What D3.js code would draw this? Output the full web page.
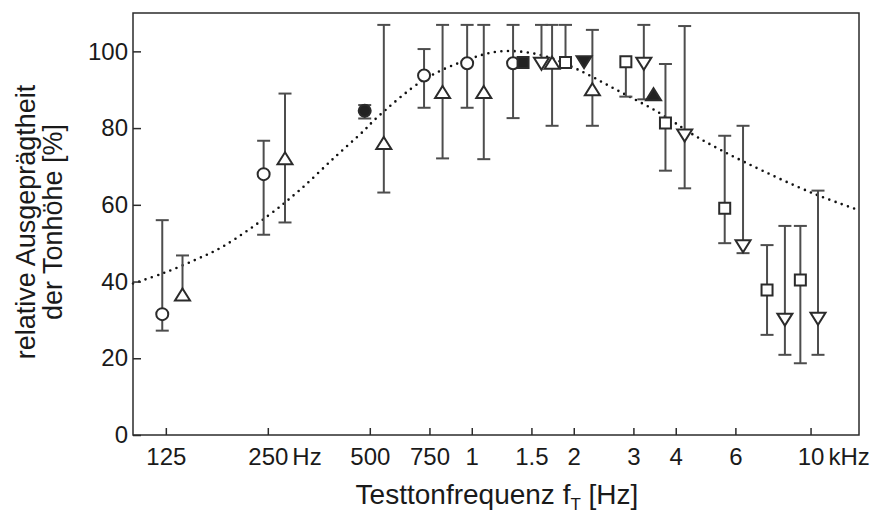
<!DOCTYPE html>
<html>
<head>
<meta charset="utf-8">
<script src="https://cdn.jsdelivr.net/npm/d3@7"></script>
<style>
  html, body { margin: 0; padding: 0; background: #fff; }
  svg text { font-family: "Liberation Sans", Arial, Helvetica, sans-serif; fill: #1a1a1a; }
</style>
</head>
<body>
<svg id="chart" width="875" height="516"></svg>
<script>
// ---- data ----
const freqs  = [122, 140, 243, 281, 483, 550, 723, 820, 969, 1085, 1324, 1417, 1606, 1726, 1891, 2145, 2270, 2850, 3220, 3440, 3730, 4250, 5580, 6320, 7440, 8400, 9330, 10520];
const values = [31.5, 36.5, 68, 72, 84.5, 76, 93.7, 89.3, 96.9, 89.3, 96.9, 97.1, 96.9, 96.9, 97.1, 97.3, 90, 97.3, 96.9, 88.7, 81.3, 78.2, 59.1, 49.3, 37.8, 30.2, 40.4, 30.4];
const upper  = [56, 46.8, 76.7, 89, 86, 106.9, 100.6, 106.9, 106.9, 106.9, 106.9, null, 106.9, 106.9, 106.9, null, 105.6, null, 106.9, null, 96.7, 106.6, 78, 80.6, 49.5, 54.5, 54.5, 63.7];
const lower  = [27.2, null, 52.2, 55.4, 82.5, 63.2, 85.3, 72.1, 85.3, 71.9, 82.6, null, null, 80.6, null, null, 80.6, 88.2, 87.5, null, 68.9, 64.3, 50, 47.4, 26.1, 20.9, 18.7, 20.9];
const shapes = ["circle", "triangle", "circle", "triangle", "circleFilled", "triangle", "circle", "triangle", "circle", "triangle", "circle", "squareFilled", "triangleDown", "triangle", "square", "triangleDownFilled", "triangle", "square", "triangleDown", "triangleFilled", "square", "triangleDown", "square", "triangleDown", "square", "triangleDown", "square", "triangleDown"];

const curveFreqs  = [100, 123, 154, 184, 250, 311, 394, 480, 523, 722, 950, 1210, 1590, 2040, 2670, 3590, 4600, 6470, 10170, 13900];
const curveValues = [39.5, 42.2, 45.8, 49.1, 57.1, 63.9, 72.4, 79.3, 82.6, 92.6, 97.5, 100, 99.1, 95.4, 90, 83.9, 77.8, 70.9, 63, 58.6];

const xTickFreqs  = [125, 250, 500, 750, 1000, 1500, 2000, 3000, 4000, 6000, 10000];
const xTickLabels = ["125", "250", "500", "750", "1", "1.5", "2", "3", "4", "6", "10"];
const xTickUnits  = {250: "Hz", 10000: "kHz"};
const yTicks = [0, 20, 40, 60, 80, 100];

// ---- layout ----
const svg = d3.select("#chart");
const L = 133, R = 859, T = 13, B = 435;
const x = d3.scaleLog().domain([100, 13900]).range([L, R]);
const y = d3.scaleLinear().domain([0, 110]).range([B, T]);
const ink = "#2b2b2b", barInk = "#4d4d4d";

// dotted fitted curve
const pts = curveFreqs.map((f, i) => [f, curveValues[i]]);
svg.append("path")
  .attr("d", d3.line().x(d => x(d[0])).y(d => y(d[1])).curve(d3.curveCatmullRom)(pts))
  .attr("fill", "none").attr("stroke", "#111").attr("stroke-width", 2.6)
  .attr("stroke-linecap", "round").attr("stroke-dasharray", "0 6.6");

// error bars
const cap = 6.5;
const data = freqs.map((f, i) => ({f, v: values[i], hi: upper[i], lo: lower[i], s: shapes[i]}));
const bars = svg.append("g").attr("stroke", barInk).attr("stroke-width", 2).attr("fill", "none");
data.forEach(d => {
  const cx = x(d.f);
  const top = d.hi != null ? d.hi : d.v, bot = d.lo != null ? d.lo : d.v;
  if (top !== bot) bars.append("line").attr("x1", cx).attr("x2", cx).attr("y1", y(top)).attr("y2", y(bot));
  if (d.hi != null) bars.append("line").attr("x1", cx - cap).attr("x2", cx + cap).attr("y1", y(d.hi)).attr("y2", y(d.hi));
  if (d.lo != null) bars.append("line").attr("x1", cx - cap).attr("x2", cx + cap).attr("y1", y(d.lo)).attr("y2", y(d.lo));
});

// markers
function markerPath(s) {
  if (s.startsWith("circle")) { const r = 6; return `M${-r},0A${r},${r} 0 1,0 ${r},0A${r},${r} 0 1,0 ${-r},0Z`; }
  if (s.startsWith("square")) { const h = 5.5; return `M${-h},${-h}H${h}V${h}H${-h}Z`; }
  if (s.startsWith("triangleDown")) return "M-7.5,-5.5H7.5L0,6.5Z";
  return "M0,-6.5L7.5,5.5H-7.5Z";
}
svg.append("g").selectAll("path").data(data).join("path")
  .attr("transform", d => `translate(${x(d.f)},${y(d.v)})`)
  .attr("d", d => markerPath(d.s))
  .attr("fill", d => d.s.endsWith("Filled") ? "#222" : "#fff")
  .attr("stroke", ink).attr("stroke-width", 2).attr("stroke-linejoin", "miter");

// frame
svg.append("rect").attr("x", L).attr("y", T).attr("width", R - L).attr("height", B - T)
  .attr("fill", "none").attr("stroke", ink).attr("stroke-width", 1.5);

// y axis
const yAxis = svg.append("g").attr("transform", `translate(${L},0)`)
  .call(d3.axisLeft(y).tickValues(yTicks).tickSize(-8).tickPadding(5).tickFormat(d3.format("d")));
yAxis.select(".domain").remove();
yAxis.selectAll("line").attr("stroke", ink).attr("stroke-width", 1.5);
yAxis.selectAll("text").attr("font-size", 24).style("fill", "#1a1a1a");

// x axis
const xAxis = svg.append("g").attr("transform", `translate(0,${B})`)
  .call(d3.axisBottom(x).tickValues(xTickFreqs).tickSize(-7).tickPadding(13)
    .tickFormat((d, i) => xTickLabels[i]));
xAxis.select(".domain").remove();
xAxis.selectAll("line").attr("stroke", ink).attr("stroke-width", 1.5);
xAxis.selectAll("text").attr("font-size", 24).style("fill", "#1a1a1a");
xAxis.selectAll(".tick").each(function(d) {
  if (xTickUnits[d]) {
    const t = d3.select(this).select("text");
    const w = t.node().getComputedTextLength();
    d3.select(this).append("text")
      .attr("x", w / 2 + 4).attr("y", t.attr("y")).attr("dy", t.attr("dy"))
      .attr("text-anchor", "start").attr("font-size", 24).style("fill", "#1a1a1a")
      .text(xTickUnits[d]);
  }
});

// axis titles
const xt = svg.append("text").attr("x", 497).attr("y", 504).attr("text-anchor", "middle").attr("font-size", 28);
xt.append("tspan").text("Testtonfrequenz f");
xt.append("tspan").attr("font-size", 17).attr("dy", 6).text("T");
xt.append("tspan").attr("dy", -6).text(" [Hz]");

const yt = svg.append("text").attr("transform", "translate(35,222) rotate(-90)")
  .attr("text-anchor", "middle").attr("font-size", 27);
yt.append("tspan").attr("x", 0).attr("y", 0).text("relative Ausgeprägtheit");
yt.append("tspan").attr("x", 0).attr("y", 27).text("der Tonhöhe [%]");
</script>
</body>
</html>
